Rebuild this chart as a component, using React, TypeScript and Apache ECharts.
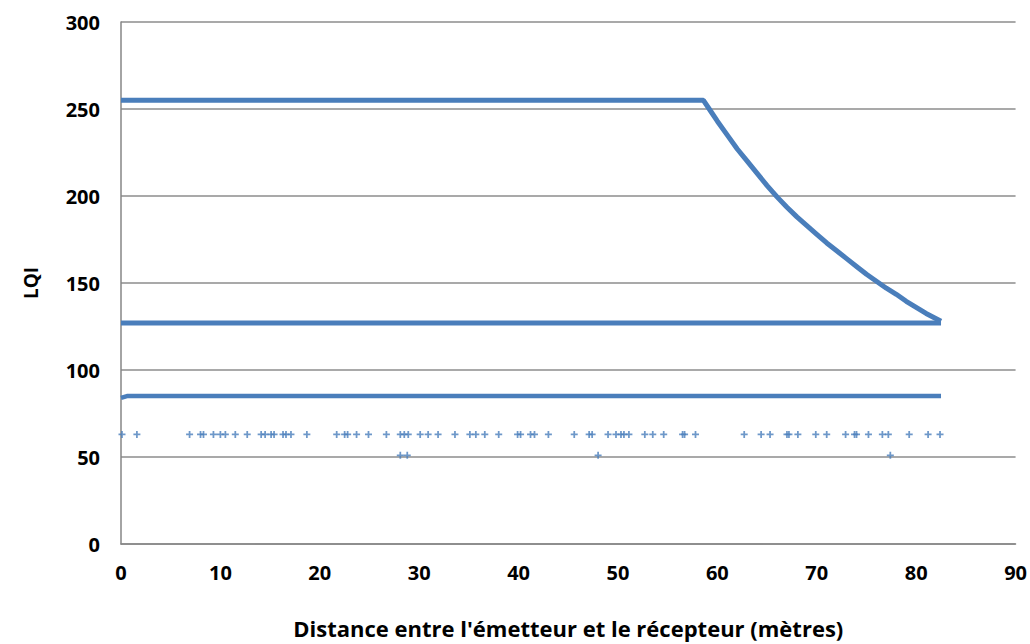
import React, { useEffect, useRef } from "react";
import * as echarts from "echarts";

const xTicks = [0, 10, 20, 30, 40, 50, 60, 70, 80, 90];
const yTicks = [0, 50, 100, 150, 200, 250, 300];

// upper band: flat at 255 then decreasing curve (x, LQI)
const upperCurve: [number, number][] = [
  [0, 255], [58.6, 255], [59.3, 249], [60, 243], [61, 235], [62, 227], [63, 220], [64, 213],
  [65, 206], [66, 199.5], [67, 193.5], [68, 188], [69, 183], [70, 178], [71, 173], [72, 168.5],
  [73, 164], [74, 159.5], [75, 155], [76, 151], [77, 147], [78, 143.5], [79, 139.5], [80, 136],
  [81, 132.5], [82.5, 128],
];
// lower flat band at 127
const lowerBand: [number, number][] = [[0, 127], [82.5, 127]];
// dense band around 85
const band85: [number, number][] = [[0, 84], [0.6, 85], [82.5, 85]];

const x63 = [0.1, 1.6, 6.9, 8.0, 8.3, 9.3, 10.0, 10.5, 11.5, 12.7, 14.1, 14.5, 15.1, 15.4,
  16.3, 16.6, 17.1, 18.7, 21.7, 22.5, 22.8, 23.7, 24.9, 26.7, 28.1, 28.5, 28.9, 30.1, 30.9,
  31.9, 33.6, 35.1, 35.7, 36.6, 38.0, 39.9, 40.2, 41.2, 41.6, 43.0, 45.6, 47.1, 47.4, 49.0,
  49.8, 50.3, 50.6, 51.1, 52.7, 53.5, 54.6, 56.5, 56.7, 57.8, 62.7, 64.4, 65.3, 67.0, 67.2,
  68.1, 69.9, 71.0, 72.9, 73.8, 74.0, 75.2, 76.6, 77.2, 79.3, 81.2, 82.4];
const x51 = [28.1, 28.8, 48.0, 77.4];

const BLUE = "#4a7ebb";
const CROSS = "path://M3,0H5V3H8V5H5V8H3V5H0V3H3Z";
const FONT = "'Open Sans', sans-serif";

export default function App() {
  const ref = useRef<HTMLDivElement>(null);
  useEffect(() => {
    const chart = echarts.init(ref.current!, null, { renderer: "svg" });
    chart.setOption({
      animation: false,
      backgroundColor: "#fff",
      grid: { left: 121, right: 11, top: 22, bottom: 87, containLabel: false },
      xAxis: {
        type: "value",
        min: xTicks[0],
        max: xTicks[xTicks.length - 1],
        interval: 10,
        name: "Distance entre l'émetteur et le récepteur (mètres)",
        nameLocation: "middle",
        nameGap: 73,
        nameMoveOverlap: false,
        nameTextStyle: { fontFamily: FONT, fontWeight: "bold", fontSize: 22, color: "#000" },
        axisLine: { show: true, lineStyle: { color: "#868686", width: 1.5 } },
        axisTick: { show: false },
        splitLine: { show: false },
        axisLabel: { fontFamily: FONT, fontWeight: "bold", fontSize: 20, color: "#000", margin: 18 },
      },
      yAxis: {
        type: "value",
        min: yTicks[0],
        max: yTicks[yTicks.length - 1],
        interval: 50,
        name: "LQI",
        nameLocation: "middle",
        nameGap: 81,
        nameMoveOverlap: false,
        nameRotate: 90,
        nameTextStyle: { fontFamily: FONT, fontWeight: "bold", fontSize: 19, color: "#000" },
        axisLine: { show: true, lineStyle: { color: "#868686", width: 1.5 } },
        axisTick: { show: false },
        splitLine: { show: true, lineStyle: { color: "#8c8c8c", width: 1.5 } },
        axisLabel: { fontFamily: FONT, fontWeight: "bold", fontSize: 20, color: "#000", margin: 21 },
      },
      series: [
        {
          type: "line",
          data: upperCurve,
          showSymbol: false,
          lineStyle: { color: BLUE, width: 5 },
          z: 3,
        },
        {
          type: "line",
          data: lowerBand,
          showSymbol: false,
          lineStyle: { color: BLUE, width: 5 },
          z: 3,
        },
        {
          type: "line",
          data: band85,
          showSymbol: false,
          lineStyle: { color: BLUE, width: 4.5 },
          z: 3,
        },
        {
          type: "scatter",
          data: x63.map((x) => [x, 63]),
          symbol: CROSS,
          symbolSize: 7,
          itemStyle: { color: BLUE },
          z: 3,
        },
        {
          type: "scatter",
          data: x51.map((x) => [x, 51]),
          symbol: CROSS,
          symbolSize: 7,
          itemStyle: { color: BLUE },
          z: 3,
        },
      ],
    });
    return () => chart.dispose();
  }, []);
  return <div ref={ref} style={{ width: 1030, height: 644, position: "absolute", left: 0, top: 0 }} />;
}
